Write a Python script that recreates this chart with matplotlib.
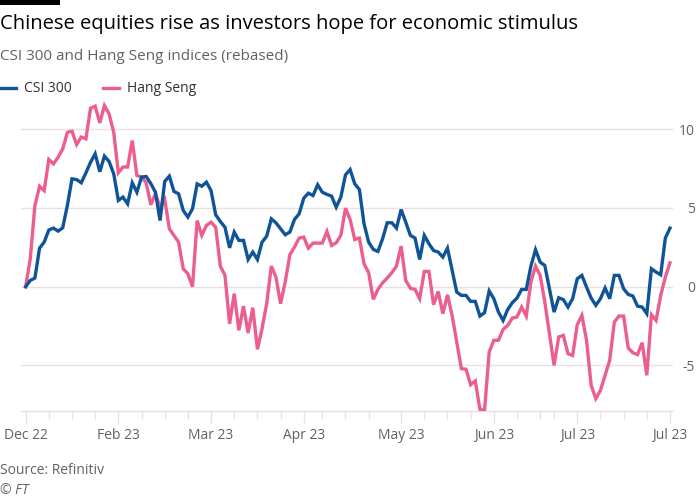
import matplotlib
matplotlib.use("Agg")
import matplotlib.pyplot as plt
from matplotlib.lines import Line2D
from matplotlib.patches import Rectangle

# rebased index values, one per trading day (day 0 = start)
CSI300 = [
    0, 0.4, 0.55, 2.45, 2.83, 3.6, 3.72, 3.53, 3.74, 5.16,
    6.85, 6.8, 6.6, 7.23, 7.9, 8.44, 7.3, 8.29, 7.95, 7.17,
    5.48, 5.69, 5.26, 6.6, 6.0, 6.96, 7.0, 6.55, 6.0, 4.2,
    6.68, 7.02, 6.05, 5.9, 4.84, 4.42, 4.95, 6.53, 6.38, 6.64,
    6.1, 4.57, 4.14, 3.78, 2.47, 3.47, 2.94, 2.94, 1.73, 2.2,
    1.73, 2.83, 3.21, 4.31, 4.06, 3.68, 3.3, 3.47, 4.27, 4.63,
    5.62, 5.94, 5.79, 6.47, 6.0, 5.86, 5.75, 5.05, 5.69, 7.1,
    7.44, 6.53, 6.17, 4.0, 2.83, 2.37, 2.24, 3.04, 4.06, 4.06,
    3.72, 4.9, 4.1, 3.26, 3.09, 1.73, 3.26, 2.73, 2.3, 2.2,
    1.88, 2.45, 1.04, -0.34, -0.55, -0.55, -0.93, -0.93, -1.86, -1.65,
    -0.27, -0.76, -1.61, -2.14, -1.44, -1.01, -0.72, -0.17, -0.17, 1.31,
    2.35, 1.56, 1.35, -0.13, -1.61, -0.7, -0.82, -1.29, -0.76, 0.51,
    0.72, -0.02, -0.72, -1.18, -0.76, -0.08, -0.76, 0.72, 0.72, -0.13,
    -0.49, -0.59, -1.23, -1.29, -1.71, 1.14, 0.93, 0.76, 3.09, 3.72,
]
HANG_SENG = [
    0, 1.78, 5.16, 6.38, 6.1, 8.08, 7.8, 8.22, 8.75, 9.8,
    9.87, 9.03, 9.5, 9.39, 11.33, 11.46, 10.4, 11.5, 10.97, 9.8,
    7.23, 7.6, 7.6, 9.28, 7.06, 6.96, 6.6, 5.2, 5.9, 5.05,
    5.54, 3.68, 3.26, 2.83, 1.14, 0.82, 0, 4.2, 3.26, 3.89,
    4.1, 3.78, 1.31, 0.72, -2.35, -0.44, -2.77, -1.23, -2.94, -1.33,
    -3.97, -2.66, -1.08, 1.31, 0.61, -1.08, 0.3, 2.03, 2.52, 3.09,
    3.15, 2.45, 2.77, 2.77, 2.77, 3.51, 2.62, 2.79, 3.26, 4.99,
    4.27, 3.0, 3.09, 1.46, 0.89, -0.8, -0.17, 0.25, 0.55, 0.89,
    1.31, 2.58, 0.4, -0.1, -0.17, -0.76, 0.97, 0.97, -1.14, -0.3,
    -1.71, -0.51, -1.82, -3.51, -5.2, -5.24, -6.22, -5.98, -7.78, -7.84,
    -4.14, -3.4, -3.4, -2.71, -2.45, -1.99, -1.92, -1.29, -1.86, 0.3,
    1.31, 0.72, -0.97, -2.98, -4.99, -3.19, -3.09, -4.25, -4.36, -2.41,
    -1.82, -3.4, -6.26, -7.1, -6.58, -5.62, -4.67, -2.24, -1.86, -1.86,
    -3.89, -4.19, -4.31, -3.55, -5.62, -1.78, -2.14, -0.55, 0.61, 1.52,
]
DAYS = list(range(len(CSI300)))

MAJOR_TICKS = [0, 20, 40, 60, 81, 101, 119, 139]
MAJOR_LABELS = ["Dec 22", "Feb 23", "Mar 23", "Apr 23", "May 23", "Jun 23", "Jul 23", "Jul 23"]
MINOR_TICKS = [5, 10, 15, 25, 30, 35, 45, 50, 55, 64, 69, 74, 86, 91, 96,
               106, 111, 114, 124, 129, 134]
Y_TICKS = [-5, 0, 5, 10]

BLUE = "#0f5499"
PINK = "#eb5e8d"
GRID = "#e9e2db"
TEXT = "#33302e"
GREY = "#66605c"

plt.rcParams["font.family"] = ["Open Sans", "DejaVu Sans"]
plt.rcParams["axes.unicode_minus"] = False

fig = plt.figure(figsize=(7, 5), dpi=100, facecolor="white")
ax = fig.add_axes([0.03, 0.1786, 0.9314, 0.626])

ax.plot(DAYS, HANG_SENG, color=PINK, lw=2.4, solid_joinstyle="miter", zorder=3)
ax.plot(DAYS, CSI300, color=BLUE, lw=2.4, solid_joinstyle="miter", zorder=4)

ax.set_xlim(-1.0, 139.65)
ax.set_ylim(-7.87, 12)

ax.set_yticks(Y_TICKS)
ax.yaxis.tick_right()
ax.tick_params(axis="y", length=0, pad=15.8, labelsize=10, labelcolor=GREY)
for lbl in ax.get_yticklabels():
    lbl.set_horizontalalignment("right")
ax.grid(axis="y", color=GRID, lw=1.0, zorder=0)

ax.set_xticks(MAJOR_TICKS)
ax.set_xticklabels(MAJOR_LABELS)
ax.set_xticks(MINOR_TICKS, minor=True)
ax.tick_params(axis="x", which="major", length=8.6, width=1.0, color=GRID,
               labelsize=10, labelcolor=GREY, pad=4)
ax.tick_params(axis="x", which="minor", length=5.5, width=1.0, color=GRID)

for s in ("top", "right", "left"):
    ax.spines[s].set_visible(False)
ax.spines["bottom"].set_color(GRID)
ax.spines["bottom"].set_linewidth(1.0)

fig.add_artist(Rectangle((0, 0.99), 0.086, 0.01, transform=fig.transFigure,
                         color="black", lw=0))
fig.text(0.0, 0.953, "Chinese equities rise as investors hope for economic stimulus",
         fontsize=14.5, color="black", va="center", ha="left")
fig.text(0.0, 0.886, "CSI 300 and Hang Seng indices (rebased)",
         fontsize=11, color=GREY, va="center", ha="left")

fig.add_artist(Line2D([0.0, 0.023], [0.824, 0.824], color=BLUE, lw=2.4,
                      transform=fig.transFigure))
fig.text(0.034, 0.824, "CSI 300", fontsize=10, color=TEXT, va="center")
fig.add_artist(Line2D([0.147, 0.170], [0.824, 0.824], color=PINK, lw=2.4,
                      transform=fig.transFigure))
fig.text(0.181, 0.824, "Hang Seng", fontsize=10, color=TEXT, va="center")

fig.text(0.0, 0.058, "Source: Refinitiv", fontsize=10, color=GREY, va="center")
fig.text(0.0, 0.02, "© FT", fontsize=10, color=GREY, va="center", style="italic")

fig.savefig("out.png", dpi=100, facecolor="white")
